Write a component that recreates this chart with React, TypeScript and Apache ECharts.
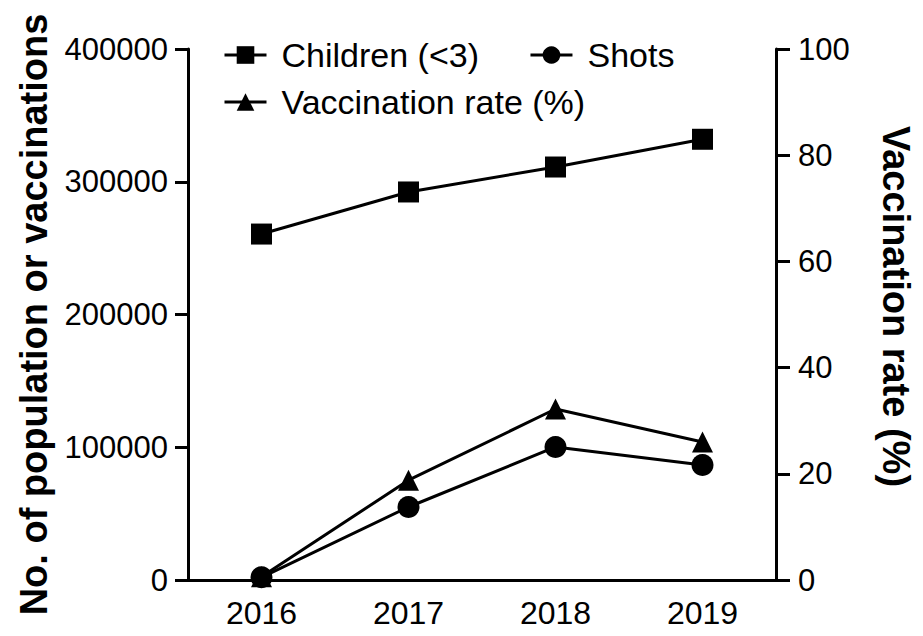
import React, { useEffect, useRef } from "react";
import * as echarts from "echarts";

const years = ["2016", "2017", "2018", "2019"];
const children = [260600, 292300, 311100, 332000];
const shots = [2000, 55000, 100200, 86600];
const rate = [0.6, 18.8, 32.2, 26.0];

const FONT = "'Liberation Sans', Arial, sans-serif";

export default function App() {
  const ref = useRef<HTMLDivElement>(null);
  useEffect(() => {
    const chart = echarts.init(ref.current!, null, { renderer: "svg" });
    const lineStyle = { color: "#000", width: 3 };
    const legendCommon = {
      left: 218,
      itemWidth: 42,
      itemHeight: 22,
      lineStyle: { width: 3, color: "#000" },
      textStyle: { fontSize: 34, color: "#000", fontFamily: FONT, padding: [0, 0, 0, 10] },
    };
    chart.setOption({
      animation: false,
      backgroundColor: "#fff",
      textStyle: { fontFamily: FONT, color: "#000" },
      grid: { left: 188, right: 138, top: 49, bottom: 56, containLabel: false },
      legend: [
        {
          ...legendCommon,
          data: ["Children (<3)", "Shots"],
          top: 33,
          itemGap: 50,
        },
        {
          ...legendCommon,
          data: ["Vaccination rate (%)"],
          top: 80,
        },
      ],
      xAxis: {
        type: "category",
        data: years,
        boundaryGap: true,
        axisLine: { lineStyle: { color: "#000", width: 3 } },
        axisTick: { alignWithLabel: true, length: 12, lineStyle: { color: "#000", width: 3 } },
        axisLabel: { fontSize: 32, color: "#000", margin: 17, fontFamily: FONT },
        splitLine: { show: false },
      },
      yAxis: [
        {
          type: "value",
          min: 0,
          max: 400000,
          interval: 100000,
          position: "left",
          name: "No. of population or vaccinations",
          nameLocation: "middle",
          nameGap: 135,
          nameTextStyle: { fontSize: 38, fontWeight: "bold", color: "#000", fontFamily: FONT },
          axisLine: { show: true, lineStyle: { color: "#000", width: 3 } },
          axisTick: { show: true, length: 13, lineStyle: { color: "#000", width: 3 } },
          axisLabel: {
            fontSize: 31,
            color: "#000",
            margin: 20,
            fontFamily: FONT,
            formatter: (v: number) => String(v),
          },
          splitLine: { show: false },
        },
        {
          type: "value",
          min: 0,
          max: 100,
          interval: 20,
          position: "right",
          name: "Vaccination rate (%)",
          nameLocation: "middle",
          nameRotate: -90,
          nameGap: 101,
          nameTextStyle: {
            fontSize: 38,
            fontWeight: "bold",
            color: "#000",
            fontFamily: FONT,
            padding: [0, 16, 0, 0],
          },
          axisLine: { show: true, lineStyle: { color: "#000", width: 3 } },
          axisTick: { show: true, length: 14, lineStyle: { color: "#000", width: 3 } },
          axisLabel: { fontSize: 31, color: "#000", margin: 22, fontFamily: FONT },
          splitLine: { show: false },
        },
      ],
      series: [
        {
          name: "Children (<3)",
          type: "line",
          data: children,
          yAxisIndex: 0,
          symbol: "rect",
          symbolSize: 21,
          lineStyle,
          itemStyle: { color: "#000" },
        },
        {
          name: "Shots",
          type: "line",
          data: shots,
          yAxisIndex: 0,
          symbol: "circle",
          symbolSize: 22,
          lineStyle,
          itemStyle: { color: "#000" },
        },
        {
          name: "Vaccination rate (%)",
          type: "line",
          data: rate,
          yAxisIndex: 1,
          symbol: "triangle",
          symbolSize: 21,
          lineStyle,
          itemStyle: { color: "#000" },
        },
      ],
    });
    return () => chart.dispose();
  }, []);
  return <div ref={ref} style={{ width: 923, height: 636, position: "absolute", left: 0, top: 0 }} />;
}
